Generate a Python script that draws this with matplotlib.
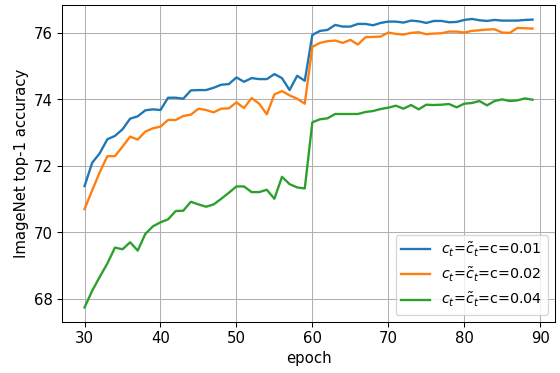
import matplotlib
matplotlib.use("Agg")
import matplotlib.pyplot as plt

# epochs 30..89
epochs = list(range(30, 90))

acc_001 = [71.39, 72.09, 72.38, 72.80, 72.90, 73.10, 73.42, 73.49, 73.67, 73.70,
           73.68, 74.05, 74.05, 74.02, 74.27, 74.28, 74.28, 74.35, 74.44, 74.46,
           74.66, 74.53, 74.64, 74.61, 74.61, 74.76, 74.64, 74.28, 74.71, 74.56,
           75.94, 76.06, 76.09, 76.24, 76.19, 76.19, 76.27, 76.27, 76.23, 76.30,
           76.34, 76.34, 76.31, 76.37, 76.35, 76.30, 76.36, 76.36, 76.32, 76.33,
           76.39, 76.42, 76.38, 76.36, 76.39, 76.37, 76.37, 76.37, 76.39, 76.40]

acc_002 = [70.70, 71.26, 71.81, 72.29, 72.29, 72.58, 72.88, 72.79, 73.03, 73.13,
           73.18, 73.38, 73.38, 73.50, 73.54, 73.72, 73.68, 73.61, 73.72, 73.73,
           73.91, 73.74, 74.04, 73.87, 73.55, 74.15, 74.25, 74.12, 74.02, 73.87,
           75.58, 75.70, 75.75, 75.77, 75.70, 75.79, 75.65, 75.87, 75.88, 75.89,
           76.01, 75.97, 75.95, 76.00, 76.02, 75.96, 75.98, 75.99, 76.04, 76.04,
           76.01, 76.06, 76.08, 76.10, 76.11, 76.01, 76.00, 76.15, 76.14, 76.13]

acc_004 = [67.74, 68.24, 68.66, 69.06, 69.54, 69.49, 69.70, 69.45, 69.95, 70.18,
           70.30, 70.39, 70.64, 70.65, 70.92, 70.84, 70.77, 70.84, 71.01, 71.19,
           71.38, 71.38, 71.21, 71.21, 71.28, 71.01, 71.67, 71.45, 71.35, 71.32,
           73.31, 73.40, 73.43, 73.56, 73.56, 73.56, 73.56, 73.62, 73.65, 73.71,
           73.75, 73.81, 73.72, 73.83, 73.70, 73.84, 73.83, 73.84, 73.86, 73.76,
           73.87, 73.89, 73.95, 73.82, 73.95, 74.00, 73.95, 73.97, 74.03, 73.99]

labels = [r'$c_t$=$\tilde{c}_t$=c=0.01',
          r'$c_t$=$\tilde{c}_t$=c=0.02',
          r'$c_t$=$\tilde{c}_t$=c=0.04']

plt.rcParams['font.size'] = 11.5

fig, ax = plt.subplots(figsize=(6, 4), dpi=560 / 6)

for series, label in zip([acc_001, acc_002, acc_004], labels):
    ax.plot(epochs, series, label=label, linewidth=1.8)

ax.set_xlabel('epoch')
ax.set_ylabel('ImageNet top-1 accuracy')
ax.set_xticks([30, 40, 50, 60, 70, 80, 90])
ax.set_yticks([68, 70, 72, 74, 76])
ax.grid(True)
ax.legend(loc='lower right', fontsize=11)

fig.subplots_adjust(left=0.111, right=0.991, top=0.987, bottom=0.137)
fig.savefig('out.png')
